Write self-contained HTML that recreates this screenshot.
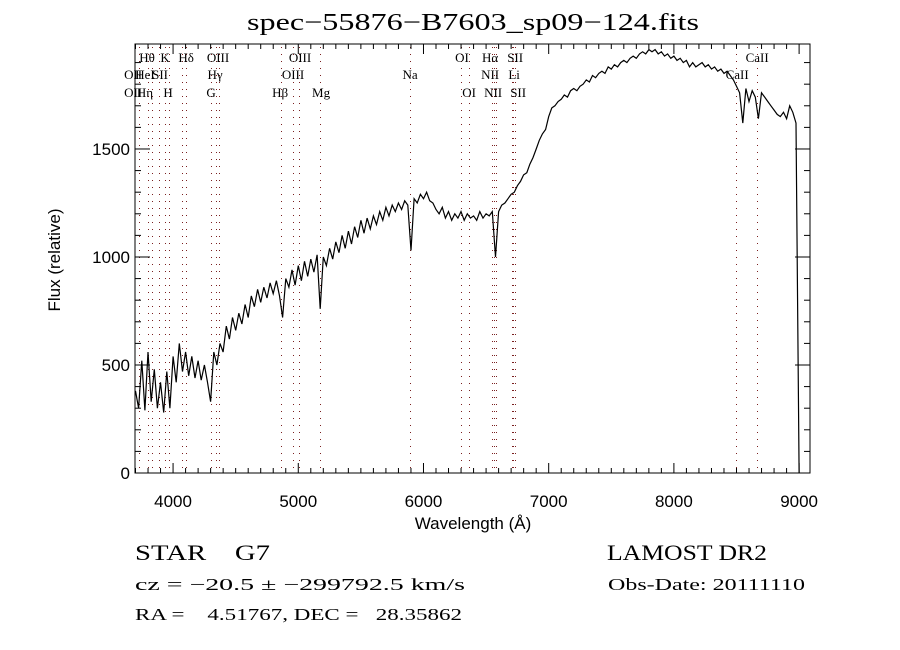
<!DOCTYPE html>
<html><head><meta charset="utf-8"><style>
html,body{margin:0;padding:0;background:#fff;}
svg{display:block;font-family:"Liberation Serif",serif;}
</style></head><body>
<svg id="chart" width="900" height="650" viewBox="0 0 900 650" xmlns="http://www.w3.org/2000/svg">
<rect x="0" y="0" width="900" height="650" fill="#fff"/>
<text x="473" y="30" font-size="24" text-anchor="middle" textLength="452" lengthAdjust="spacingAndGlyphs">spec−55876−B7603_sp09−124.fits</text>
<g id="lines"></g>
<g id="labels"></g>
<g id="series"></g>
<g id="axes"></g>
<text x="473" y="529" font-family="Liberation Sans,sans-serif" font-size="17" text-anchor="middle">Wavelength (Å)</text>
<text transform="translate(60,260) rotate(-90)" font-family="Liberation Sans,sans-serif" font-size="17" text-anchor="middle">Flux (relative)</text>
<text x="135" y="560" font-size="22" textLength="135" lengthAdjust="spacingAndGlyphs" xml:space="preserve">STAR    G7</text>
<text x="135" y="590" font-size="17" textLength="330" lengthAdjust="spacingAndGlyphs">cz = −20.5 ± −299792.5 km/s</text>
<text x="135" y="620" font-size="17" textLength="327" lengthAdjust="spacingAndGlyphs" xml:space="preserve">RA =    4.51767, DEC =   28.35862</text>
<text x="607" y="560" font-size="22" textLength="160" lengthAdjust="spacingAndGlyphs">LAMOST DR2</text>
<text x="608" y="590" font-size="17" textLength="197" lengthAdjust="spacingAndGlyphs">Obs-Date: 20111110</text>
</svg>
<script>
const xTicks = [4000,5000,6000,7000,8000,9000];
const yTicks = [0,500,1000,1500];
const fluxStart = 3700;
const fluxStep = 25;
const flux = [380,300,520,290,560,330,480,300,420,280,470,300,540,420,600,470,560,450,540,440,520,430,500,420,330,560,500,600,560,680,620,720,660,740,690,780,720,820,770,850,790,860,810,880,830,890,820,720,900,860,940,870,960,890,980,910,990,930,1010,760,1000,960,1040,990,1070,1020,1100,1040,1120,1060,1140,1090,1170,1110,1180,1130,1190,1150,1210,1170,1230,1190,1240,1210,1250,1220,1260,1240,1030,1270,1250,1290,1270,1300,1260,1250,1220,1200,1230,1180,1210,1170,1200,1180,1210,1170,1200,1180,1190,1170,1210,1180,1200,1190,1210,1000,1210,1240,1250,1270,1290,1300,1330,1350,1380,1390,1430,1460,1500,1540,1570,1590,1650,1690,1700,1720,1730,1750,1740,1770,1780,1770,1790,1800,1820,1810,1840,1830,1850,1860,1850,1880,1870,1890,1880,1900,1910,1900,1920,1930,1920,1940,1950,1940,1960,1950,1960,1940,1950,1930,1940,1920,1930,1910,1920,1900,1910,1880,1900,1880,1890,1900,1880,1890,1870,1880,1860,1870,1850,1860,1840,1820,1790,1760,1620,1780,1720,1770,1740,1640,1760,1740,1720,1700,1680,1660,1650,1670,1640,1700,1670,1620,0];
const lineWaves = [3727,3798,3835,3889,3934,3969,4072,4102,4304,4340,4363,4861,4959,5007,5175,5893,6300,6363,6548,6563,6583,6707,6716,6731,8498,8662];
const labelTexts = ["Hθ","K","Hδ","OIII","OIII","OII","HeI","SII","Hγ","OIII","OII","Hη","H","G","Hβ","Mg","OI","Hα","SII","Na","NII","Li","OI","NII","SII","CaII","CaII"];
const labelWaves = [3792,3936,4104,4359,5014,3681,3776,3896,4335,4958,3681,3776,3960,4304,4855,5182,6308,6532,6732,5893,6532,6724,6364,6556,6756,8665,8505];
const labelRows = [0,0,0,0,0,1,1,1,1,1,2,2,2,2,2,2,0,0,0,1,1,1,2,2,2,0,1];

const X0=135,X1=810,Y0=44,Y1=473;
const xmin=3696,xmax=9087,ymin=0,ymax=1986;
const NS="http://www.w3.org/2000/svg";
function xs(v){return X0+(v-xmin)/(xmax-xmin)*(X1-X0);}
function ys(v){return Y1-(v-ymin)/(ymax-ymin)*(Y1-Y0);}
function mk(tag,attrs,parent){const e=document.createElementNS(NS,tag);for(const k in attrs)e.setAttribute(k,attrs[k]);parent.appendChild(e);return e;}

const gl=document.getElementById('lines');
lineWaves.forEach(w=>{
  const x=Math.round(xs(w))+0.5;
  const l=mk('line',{x1:x,x2:x,y1:Y0+3,y2:Y1,stroke:'#7a2020','stroke-width':1,'stroke-dasharray':'1,6'},gl);
  
  
});
const glab=document.getElementById('labels');
const rowY=[62,79,97];
labelTexts.forEach((t,i)=>{
  const e=mk('text',{x:xs(labelWaves[i]),y:rowY[labelRows[i]],'font-size':13,'text-anchor':'middle'},glab);
  e.textContent=t;
  
  
});
const gs=document.getElementById('series');
let d='';
flux.forEach((f,i)=>{const w=fluxStart+i*fluxStep;d+=(i?'L':'M')+xs(w).toFixed(1)+','+ys(f).toFixed(1);});
const p=mk('path',{d:d,fill:'none',stroke:'#000','stroke-width':1.2},gs);



const ga=document.getElementById('axes');
const fr=mk('rect',{x:X0,y:Y0,width:X1-X0,height:Y1-Y0,fill:'none',stroke:'#000','stroke-width':1},ga);


for(let w=3700;w<=xmax;w+=100){
  const major=w%1000===0;const L=major?10:5;const x=xs(w);
  mk('line',{x1:x,x2:x,y1:Y1,y2:Y1-L,stroke:'#000'},ga);
  mk('line',{x1:x,x2:x,y1:Y0,y2:Y0+L,stroke:'#000'},ga);
}
for(let v=0;v<=ymax;v+=100){
  const major=v%500===0;const L=major?15:6;const y=ys(v);
  mk('line',{x1:X0,x2:X0+L,y1:y,y2:y,stroke:'#000'},ga);
  mk('line',{x1:X1,x2:X1-L,y1:y,y2:y,stroke:'#000'},ga);
}
xTicks.forEach(v=>{
  const t=mk('text',{x:xs(v),y:Y1+34,'font-family':'Liberation Sans,sans-serif','font-size':17,'text-anchor':'middle'},ga);
  t.textContent=v;
  
  
});
yTicks.forEach(v=>{
  const t=mk('text',{x:X0-5,y:ys(v)+6,'font-family':'Liberation Sans,sans-serif','font-size':17,'text-anchor':'end'},ga);
  t.textContent=v;
  
  
});
</script>
</body></html>
